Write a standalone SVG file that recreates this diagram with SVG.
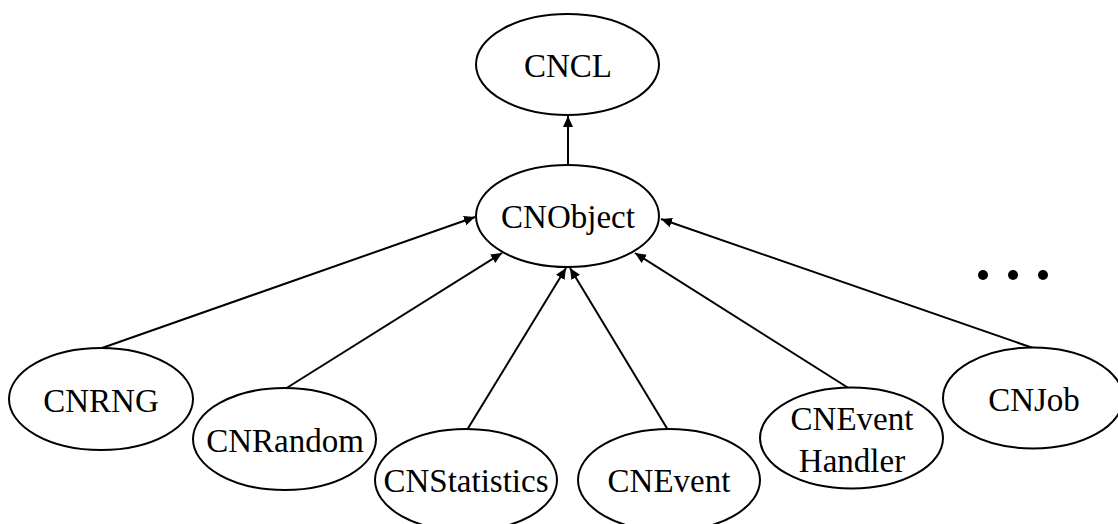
<svg xmlns="http://www.w3.org/2000/svg" width="1118" height="524" viewBox="0 0 1118 524">
  <defs>
    <marker id="arrow" markerUnits="userSpaceOnUse" markerWidth="12" markerHeight="11" refX="11" refY="5" orient="auto">
      <path d="M0,0 L11,5 L0,10 z" fill="#000"/>
    </marker>
  </defs>
  <style>
    .node ellipse { fill: #fff; stroke: #000; stroke-width: 2; }
    .node text { font-family: "Liberation Serif", "Times New Roman", serif; font-size: 33px; fill: #000; text-anchor: middle; }
    #edges line { stroke: #000; stroke-width: 2; marker-end: url(#arrow); }
  </style>
  <rect width="1118" height="524" fill="#fff"/>

  <!-- inheritance arrows, child to parent -->
  <g id="edges">
    <line x1="568" y1="165" x2="568" y2="116"/>
    <line x1="102" y1="348" x2="475" y2="217"/>
    <line x1="285" y1="389" x2="502" y2="253"/>
    <line x1="467" y1="430" x2="566" y2="268"/>
    <line x1="668" y1="430" x2="570" y2="268"/>
    <line x1="850" y1="389" x2="635" y2="253"/>
    <line x1="1033" y1="348" x2="661" y2="219"/>
  </g>

  <g id="cncl" class="node">
    <ellipse cx="567.5" cy="64.5" rx="91.5" ry="50.5"/>
    <text x="568" y="77">CNCL</text>
  </g>
  <g id="cnobject" class="node">
    <ellipse cx="567.5" cy="216" rx="91.5" ry="51"/>
    <text x="568" y="228">CNObject</text>
  </g>
  <g id="cnrng" class="node">
    <ellipse cx="101" cy="399" rx="92" ry="51"/>
    <text x="101" y="412">CNRNG</text>
  </g>
  <g id="cnrandom" class="node">
    <ellipse cx="284.5" cy="439" rx="91.5" ry="51"/>
    <text x="285" y="452">CNRandom</text>
  </g>
  <g id="cnstatistics" class="node">
    <ellipse cx="466" cy="480" rx="91" ry="51"/>
    <text x="466" y="492">CNStatistics</text>
  </g>
  <g id="cnevent" class="node">
    <ellipse cx="669" cy="480" rx="91" ry="51"/>
    <text x="669" y="492">CNEvent</text>
  </g>
  <g id="cneventhandler" class="node">
    <ellipse cx="851.5" cy="438" rx="91.5" ry="50.5"/>
    <text x="852" y="430">CNEvent</text>
    <text x="852" y="472">Handler</text>
  </g>
  <g id="cnjob" class="node">
    <ellipse cx="1033" cy="398" rx="90" ry="50.5"/>
    <text x="1034" y="411">CNJob</text>
  </g>

  <!-- more subclasses -->
  <g id="ellipsis">
    <circle cx="983" cy="275" r="5"/>
    <circle cx="1013" cy="275" r="5"/>
    <circle cx="1043" cy="275" r="5"/>
  </g>
</svg>
